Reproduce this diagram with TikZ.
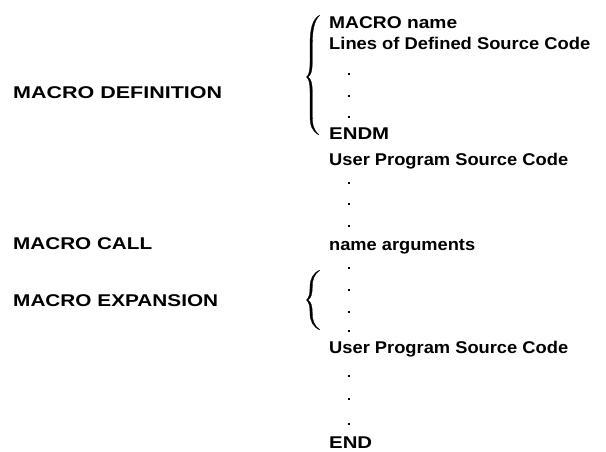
\documentclass[tikz,border=0pt]{standalone}
\usepackage{fontspec}
\setmainfont{Liberation Sans}
\usepackage{graphicx}
% set a line of text at an exact width, keeping its height
\newcommand\fitw[2]{\resizebox{#1}{\height}{#2}}
\begin{document}
\begin{tikzpicture}[x=1pt,y=-1pt,
  txt/.style={anchor=base west, inner sep=0pt, font=\bfseries\fontsize{17}{20}\selectfont},
  ellip/.style={rectangle, fill=black, inner sep=0pt, minimum size=2.6pt},
  bracefill/.style={fill=black, draw=black, line width=0.3pt, line join=round}]
\useasboundingbox (0,0) rectangle (606,451);

% labels on the left
\node[txt] (def)  at (13,98)  {\fitw{209pt}{MACRO DEFINITION}};
\node[txt] (call) at (13,249) {\fitw{139pt}{MACRO CALL}};
\node[txt] (exp)  at (13,306) {\fitw{205pt}{MACRO EXPANSION}};

% source listing
\node[txt] (mname) at (329,28)  {\fitw{128pt}{MACRO name}};
\node[txt] (lines) at (329,49)  {\fitw{261pt}{Lines of Defined Source Code}};
\node[ellip] (d1) at (349,74) {};
\node[ellip] (d2) at (349,96) {};
\node[ellip] (d3) at (349,117) {};
\node[txt] (endm)  at (329,139) {\fitw{60pt}{ENDM}};
\node[txt] (user1) at (329,165) {\fitw{239pt}{User Program Source Code}};
\node[ellip] (d4) at (349,183) {};
\node[ellip] (d5) at (349,204) {};
\node[ellip] (d6) at (349,226) {};
\node[txt] (args)  at (329,250) {\fitw{146pt}{name arguments}};
\node[ellip] (d7) at (349,268) {};
\node[ellip] (d8) at (349,290) {};
\node[ellip] (d9) at (349,312) {};
\node[ellip] (d10) at (349,331) {};
\node[txt] (user2) at (329,353) {\fitw{239pt}{User Program Source Code}};
\node[ellip] (d11) at (349,376) {};
\node[ellip] (d12) at (349,399) {};
\node[ellip] (d13) at (349,424) {};
\node[txt] (endn)  at (329,448) {\fitw{43pt}{END}};

% brace around the macro definition
\fill[bracefill] (320,15) .. controls (312,19) and (310,30) .. (310,45) -- (310,62)
  .. controls (310,71) and (309,75) .. (306.5,77)
  .. controls (309,79) and (310,83) .. (310,92) -- (310,115)
  .. controls (310,126) and (312,131) .. (319,135)
  .. controls (313.5,130) and (312.3,125) .. (312.3,115) -- (312.3,92)
  .. controls (312.3,83) and (311,79) .. (308,77)
  .. controls (311,75) and (312.3,71) .. (312.3,62) -- (312.3,45)
  .. controls (312.3,31) and (314,20) .. (320,15) -- cycle;

% brace around the macro expansion
\fill[bracefill] (320,270) .. controls (313,273) and (310,279) .. (310,287)
  .. controls (310,294) and (309,298) .. (306.5,300)
  .. controls (309,302) and (310,306) .. (310,313)
  .. controls (310,321) and (313,327) .. (320,330)
  .. controls (314.5,326) and (312.3,321) .. (312.3,313)
  .. controls (312.3,306) and (311,302) .. (308,300)
  .. controls (311,298) and (312.3,294) .. (312.3,287)
  .. controls (312.3,279) and (314.5,274) .. (320,270) -- cycle;
\end{tikzpicture}
\end{document}
